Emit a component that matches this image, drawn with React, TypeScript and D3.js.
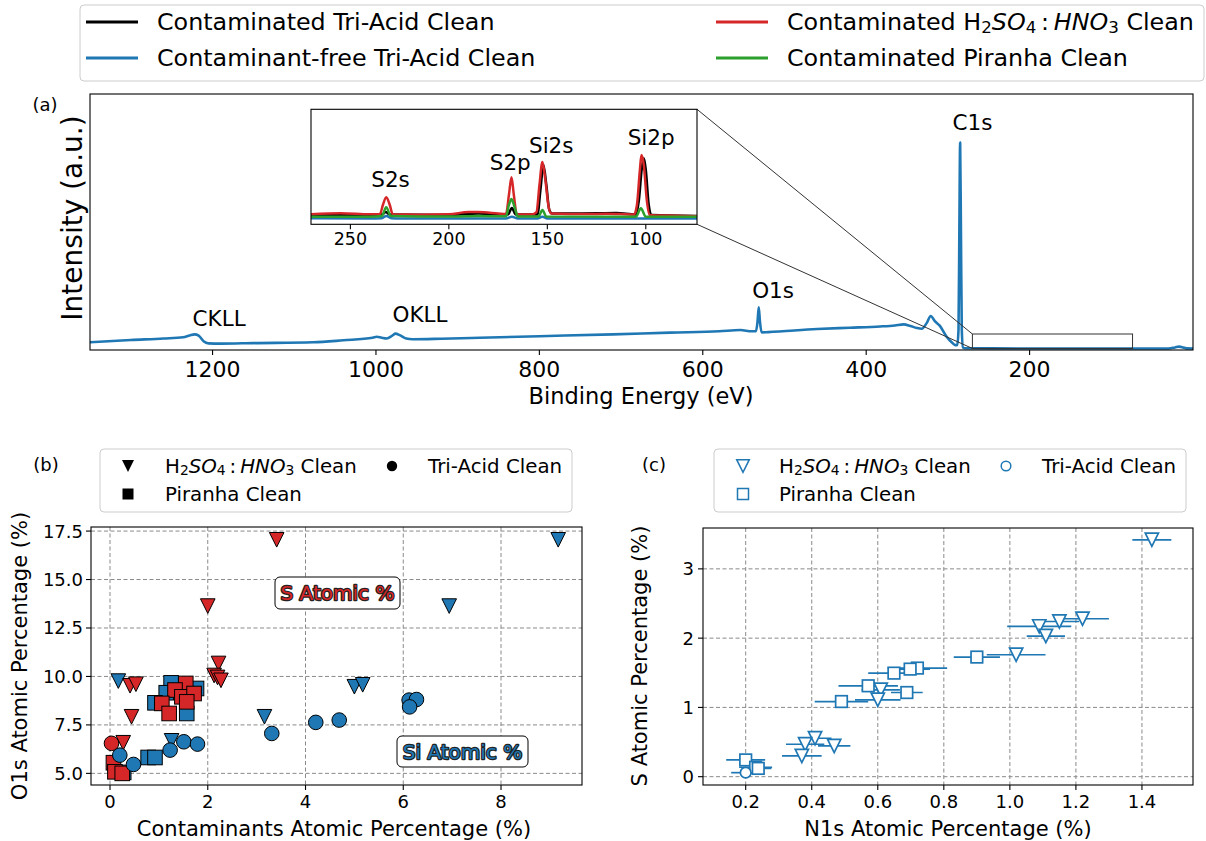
import React from "react";
import * as d3 from "d3";

const FONT = "'DejaVu Sans', sans-serif";
const C_BLUE = "#1f77b4";
const C_RED = "#d62728";
const C_GREEN = "#2ca02c";
const C_BLACK = "#000000";
const GRID = "#8a8a8a";

// (a) Survey spectrum, contaminant-free tri-acid clean: [binding energy (eV), intensity (a.u.)]
const surveyFreeTriAcid: [number, number][] = [
  [1350, 3.0], [1300, 3.9], [1260, 4.5], [1236, 5.0], [1228, 5.7], [1222, 6.1], [1217, 5.6],
  [1211, 3.4], [1205, 2.6], [1190, 2.5], [1150, 2.7], [1077, 3.0], [1040, 3.8], [1004, 4.8],
  [999, 5.2], [993, 4.8], [987, 4.5], [980, 5.6], [976, 6.4], [971, 5.8], [963, 4.5], [955, 4.2],
  [920, 4.4], [873, 4.8], [800, 5.4], [710, 6.1], [640, 6.8], [580, 7.3], [554, 7.8], [540, 7.3],
  [535, 7.3], [533, 11.0], [531.5, 16.7], [530, 11.0], [528, 6.9], [520, 7.0], [460, 8.2],
  [420, 8.7], [383, 9.2], [365, 9.6], [354, 10.0], [346, 9.4], [338, 8.6], [332, 8.3], [326, 10.5],
  [321, 13.3], [316, 11.3], [310, 9.5], [302, 5.4], [295, 2.9], [291, 1.9], [288.5, 2.0], [287, 8],
  [286, 45], [285, 81], [284, 45], [283, 8], [281.5, 1.0], [279, 0.7], [200, 0.6], [100, 0.6],
  [30, 0.6], [22, 1.0], [17, 1.3], [12, 1.0], [8, 0.65], [0, 0.6],
];

// (a) inset, 270–74 eV window: [binding energy (eV), intensity (a.u.)]
const insetTriAcid: [number, number][] = [
  [270, 1.06], [240, 1.06], [234, 1.08], [232, 1.2], [230, 1.08], [200, 1.06], [185, 1.13], [170, 1.08],
  [168, 1.4], [166, 1.08], [155, 1.08], [153.5, 2.29], [152, 3.51], [150.5, 2.53], [149, 1.3],
  [147.5, 1.13], [125, 1.14], [115, 1.15], [105, 1.08], [103.5, 1.79], [102, 3.37], [101, 3.84],
  [100, 3.27], [98.5, 1.55], [97, 1.06], [74, 1.01],
];
const insetFreeTriAcid: [number, number][] = [
  [270, 0.9], [240, 0.88], [234, 0.9], [231.8, 1.01], [229, 0.9], [225, 0.88], [171, 0.89], [168, 0.97],
  [165, 0.89], [160, 0.88], [155, 0.89], [152.5, 0.97], [150, 0.89], [145, 0.88], [74, 0.88],
];
const insetH2SO4: [number, number][] = [
  [270, 1.09], [255, 1.14], [240, 1.09], [235, 1.1], [233.5, 1.55], [231.8, 1.93], [230, 1.55],
  [228.5, 1.09], [215, 1.07], [200, 1.09], [190, 1.2], [185, 1.2], [175, 1.13], [171, 1.1],
  [169.5, 2.04], [168.2, 2.91], [167, 2.04], [165.5, 1.08], [158, 1.08], [155.5, 1.2], [154, 2.53],
  [152.5, 3.66], [151, 2.78], [149.5, 1.55], [148, 1.13], [130, 1.1], [120, 1.12], [106, 1.08],
  [104.5, 1.55], [103, 3.27], [102.2, 4.0], [101, 3.51], [99.5, 1.79], [98, 1.06], [90, 1.03], [74, 0.99],
];
const insetPiranha: [number, number][] = [
  [270, 0.97], [240, 0.97], [234, 1.01], [231.8, 1.44], [229.5, 1.01], [200, 0.98], [185, 1.01],
  [171, 0.99], [169.5, 1.55], [168.2, 1.84], [166.5, 1.4], [165, 0.98], [154.5, 0.98], [152.5, 1.3],
  [150.5, 0.98], [105, 0.97], [102.5, 1.39], [100, 0.97], [74, 0.97],
];

const surveyTicks = [1200, 1000, 800, 600, 400, 200];
const insetTicks = [250, 200, 150, 100];
const surveyPeaks = [
  { label: "CKLL", e: 1192, v: 12.5 },
  { label: "OKLL", e: 946, v: 13.7 },
  { label: "O1s", e: 514, v: 23.4 },
  { label: "C1s", e: 270, v: 89 },
];
const insetPeaks = [
  { label: "S2s", e: 229.6, v: 2.78 },
  { label: "S2p", e: 168.8, v: 3.63 },
  { label: "Si2s", e: 148, v: 4.45 },
  { label: "Si2p", e: 97.3, v: 4.87 },
];
const zoomWindow = { e0: 270, e1: 74, v0: 0.6, v1: 6.25 };

// (b) O1s vs contaminant atomic %: [contaminant %, O1s %]
const h2so4Si: [number, number][] = [
  [9.17, 17.05], [6.94, 13.63], [5.0, 9.47], [5.17, 9.57], [0.17, 9.76], [3.16, 7.92], [1.26, 6.68],
];
const h2so4S: [number, number][] = [
  [3.41, 17.05], [2.0, 13.63], [2.22, 10.67], [2.13, 10.05], [2.2, 9.95], [2.27, 9.8], [0.41, 9.52],
  [0.53, 9.6], [0.44, 7.92], [0.27, 6.58],
];
const piranhaSi: [number, number][] = [
  [0.78, 5.82], [0.92, 5.82], [1.25, 9.67], [1.15, 9.16], [1.57, 8.09], [1.77, 9.38], [0.92, 8.64], [0.28, 5.05],
];
const piranhaS: [number, number][] = [
  [1.55, 9.64], [1.33, 9.3], [1.47, 8.95], [1.72, 9.12], [1.06, 8.61], [1.21, 8.09], [1.57, 8.69],
  [0.07, 5.55], [0.1, 5.08], [0.25, 5.0],
];
const triAcidSi: [number, number][] = [
  [3.31, 7.06], [4.21, 7.63], [4.69, 7.75], [6.12, 8.78], [6.27, 8.81], [6.13, 8.43], [1.51, 6.63],
  [1.79, 6.51], [1.23, 6.2], [0.48, 5.46], [0.2, 5.94],
];
const triAcidS: [number, number][] = [[0.03, 6.55]];
const bTicksX = [0, 2, 4, 6, 8];
const bTicksY = [5, 7.5, 10, 12.5, 15, 17.5];

// (c) S vs N1s atomic %: [N1s %, S %, N1s error]
const cH2SO4: [number, number, number][] = [
  [1.43, 3.42, 0.059], [1.22, 2.28, 0.08], [1.15, 2.24, 0.06], [1.089, 2.17, 0.097], [1.109, 2.03, 0.058],
  [1.019, 1.76, 0.089], [0.609, 1.254, 0.058], [0.6, 1.11, 0.069], [0.41, 0.555, 0.05], [0.38, 0.468, 0.058],
  [0.468, 0.444, 0.049], [0.37, 0.3, 0.06],
];
const cPiranha: [number, number, number][] = [
  [0.9, 1.727, 0.07], [0.72, 1.568, 0.09], [0.698, 1.553, 0.06], [0.649, 1.495, 0.078], [0.571, 1.312, 0.09],
  [0.688, 1.215, 0.048], [0.49, 1.085, 0.081], [0.2, 0.242, 0.059], [0.23, 0.136, 0.05], [0.238, 0.12, 0.04],
];
const cTriAcid: [number, number, number][] = [[0.2, 0.058, 0.044]];
const cTicksX = [0.2, 0.4, 0.6, 0.8, 1.0, 1.2, 1.4];
const cTicksY = [0, 1, 2, 3];

// H2SO4:HNO3 written with subscripts and italic molecule names
function Acid({ size }: { size: number }) {
  const sub = size * 0.7;
  const d = size * 0.22;
  return (
    <>
      <tspan>H</tspan>
      <tspan fontSize={sub} dy={d}>2</tspan>
      <tspan fontStyle="italic" dy={-d}>SO</tspan>
      <tspan fontSize={sub} dy={d}>4</tspan>
      <tspan dy={-d}>{"\u2009:\u2009"}</tspan>
      <tspan fontStyle="italic">HNO</tspan>
      <tspan fontSize={sub} dy={d}>3</tspan>
      <tspan dy={-d}> Clean</tspan>
    </>
  );
}

const triPath = (cx: number, cy: number, r: number) =>
  `M${cx - r},${cy - r}L${cx + r},${cy - r}L${cx},${cy + r}Z`;

export default function App() {
  // ---------- (a) ----------
  const xA = d3.scaleLinear().domain([1350, 0]).range([90, 1193]);
  const yA = d3.scaleLinear().domain([0, 100]).range([350, 94]);
  const xI = d3.scaleLinear().domain([270, 74]).range([311, 697]);
  const yI = d3.scaleLinear().domain([zoomWindow.v0, zoomWindow.v1]).range([224.3, 109.3]);
  const lineA = d3.line<[number, number]>().x((d) => xA(d[0])).y((d) => yA(d[1])).curve(d3.curveMonotoneX);
  const lineI = d3.line<[number, number]>().x((d) => xI(d[0])).y((d) => yI(d[1])).curve(d3.curveMonotoneX);

  // ---------- (b) ----------
  const xB = d3.scaleLinear().domain([-0.389, 9.657]).range([91, 582]);
  const yB = d3.scaleLinear().domain([4.4, 17.71]).range([785, 527]);

  // ---------- (c) ----------
  const xC = d3.scaleLinear().domain([0.0707, 1.5546]).range([703, 1193]);
  const yC = d3.scaleLinear().domain([-0.12, 3.59]).range([785, 528]);

  const rx0 = xA(zoomWindow.e0), rx1 = xA(zoomWindow.e1);
  const ry0 = yA(zoomWindow.v1), ry1 = yA(zoomWindow.v0);
  const [ix0, ix1] = xI.range();
  const [iy1, iy0] = yI.range();

  const bR = 7.3;
  const cTri = 6.6, cSq = 5.8, cCirc = 5.3;
  const LEG = 19.8;
  const TOPLEG = 23.8;

  return (
    <svg
      width={1206}
      height={841}
      style={{ position: "absolute", left: 0, top: 0, background: "#fff" }}
      fontFamily={FONT}
    >
      <defs>
        <clipPath id="clipA"><rect x={90} y={94} width={1103} height={256} /></clipPath>
        <clipPath id="clipI"><rect x={ix0} y={iy0} width={ix1 - ix0} height={iy1 - iy0} /></clipPath>
        <clipPath id="clipB"><rect x={91} y={527} width={491} height={258} /></clipPath>
        <clipPath id="clipC"><rect x={703} y={528} width={490} height={257} /></clipPath>
      </defs>
      <rect x={0} y={0} width={1206} height={841} fill="#fff" />

      {/* ===== top legend ===== */}
      <rect x={80} y={5} width={1124} height={76} rx={4} fill="#fff" stroke="#cccccc" />
      {[
        { c: C_BLACK, x: 86, y: 22, t: "Contaminated Tri-Acid Clean" },
        { c: C_BLUE, x: 86, y: 58, t: "Contaminant-free Tri-Acid Clean" },
        { c: C_RED, x: 716, y: 22, t: null },
        { c: C_GREEN, x: 716, y: 58, t: "Contaminated Piranha Clean" },
      ].map((e, i) => (
        <g key={i}>
          <line x1={e.x} x2={e.x + 52} y1={e.y} y2={e.y} stroke={e.c} strokeWidth={3} />
          <text x={e.x + 71} y={e.y} fontSize={TOPLEG} dominantBaseline="central">
            {e.t === null ? (<><tspan>Contaminated </tspan><Acid size={TOPLEG} /></>) : e.t}
          </text>
        </g>
      ))}

      {/* ===== (a) survey ===== */}
      <text x={45} y={104} fontSize={18} textAnchor="middle" dominantBaseline="central">(a)</text>
      <g clipPath="url(#clipA)">
        <path d={lineA(surveyFreeTriAcid) || ""} fill="none" stroke={C_BLUE} strokeWidth={2.6} strokeLinejoin="round" />
      </g>
      <rect x={90} y={94} width={1103} height={256} fill="none" stroke="#000" strokeWidth={1.1} />
      {surveyTicks.map((t) => (
        <g key={t}>
          <line x1={xA(t)} x2={xA(t)} y1={350} y2={355} stroke="#000" strokeWidth={1.1} />
          <text x={xA(t)} y={369} fontSize={22} textAnchor="middle" dominantBaseline="central">{t}</text>
        </g>
      ))}
      <text x={641} y={396} fontSize={22.5} textAnchor="middle" dominantBaseline="central">Binding Energy (eV)</text>
      <text transform="translate(72,218) rotate(-90)" fontSize={28} textAnchor="middle" dominantBaseline="central">
        Intensity (a.u.)
      </text>
      {surveyPeaks.map((p) => (
        <text key={p.label} x={xA(p.e)} y={yA(p.v)} fontSize={21.5} textAnchor="middle" dominantBaseline="central">
          {p.label}
        </text>
      ))}

      {/* zoom window and connectors */}
      <rect x={rx0} y={ry0} width={rx1 - rx0} height={ry1 - ry0} fill="none" stroke="#333" strokeWidth={1} />
      <line x1={ix1} y1={iy0} x2={rx0} y2={ry0} stroke="#333" strokeWidth={1} />
      <line x1={ix1} y1={iy1} x2={rx0} y2={ry1} stroke="#333" strokeWidth={1} />

      {/* inset */}
      <rect x={ix0} y={iy0} width={ix1 - ix0} height={iy1 - iy0} fill="#fff" />
      <g clipPath="url(#clipI)">
        <path d={lineI(insetTriAcid) || ""} fill="none" stroke={C_BLACK} strokeWidth={2.5} strokeLinejoin="round" />
        <path d={lineI(insetFreeTriAcid) || ""} fill="none" stroke={C_BLUE} strokeWidth={2.5} strokeLinejoin="round" />
        <path d={lineI(insetH2SO4) || ""} fill="none" stroke={C_RED} strokeWidth={2.5} strokeLinejoin="round" />
        <path d={lineI(insetPiranha) || ""} fill="none" stroke={C_GREEN} strokeWidth={2.5} strokeLinejoin="round" />
      </g>
      <rect x={ix0} y={iy0} width={ix1 - ix0} height={iy1 - iy0} fill="none" stroke="#000" strokeWidth={1.1} />
      {insetTicks.map((t) => (
        <g key={t}>
          <line x1={xI(t)} x2={xI(t)} y1={iy1} y2={iy1 + 5} stroke="#000" strokeWidth={1.1} />
          <text x={xI(t)} y={iy1 + 15} fontSize={17.5} textAnchor="middle" dominantBaseline="central">{t}</text>
        </g>
      ))}
      {insetPeaks.map((p) => (
        <text key={p.label} x={xI(p.e)} y={yI(p.v)} fontSize={21.5} textAnchor="middle" dominantBaseline="central">
          {p.label}
        </text>
      ))}

      {/* ===== (b) ===== */}
      <text x={46} y={464} fontSize={18} textAnchor="middle" dominantBaseline="central">(b)</text>
      <rect x={100} y={449} width={472} height={63} rx={4} fill="#fff" stroke="#cccccc" />
      <path d={triPath(128, 466, 6)} fill="#000" />
      <text x={165} y={466} fontSize={LEG} dominantBaseline="central"><Acid size={LEG} /></text>
      <circle cx={392} cy={466} r={5.2} fill="#000" />
      <text x={428} y={466} fontSize={LEG} dominantBaseline="central">Tri-Acid Clean</text>
      <rect x={122.5} y={488.5} width={11} height={11} fill="#000" />
      <text x={165} y={494} fontSize={LEG} dominantBaseline="central">Piranha Clean</text>

      <g stroke={GRID} strokeWidth={1} strokeDasharray="4,2.5">
        {bTicksX.map((t) => <line key={"gx" + t} x1={xB(t)} x2={xB(t)} y1={527} y2={785} />)}
        {bTicksY.map((t) => <line key={"gy" + t} x1={91} x2={582} y1={yB(t)} y2={yB(t)} />)}
      </g>
      <g clipPath="url(#clipB)" stroke="#000" strokeWidth={1}>
        {h2so4Si.map((d, i) => <path key={"ts" + i} d={triPath(xB(d[0]), yB(d[1]), bR)} fill={C_BLUE} />)}
        {h2so4S.map((d, i) => <path key={"tr" + i} d={triPath(xB(d[0]), yB(d[1]), bR)} fill={C_RED} />)}
        {piranhaSi.map((d, i) => (
          <rect key={"ps" + i} x={xB(d[0]) - bR} y={yB(d[1]) - bR} width={2 * bR} height={2 * bR} fill={C_BLUE} />
        ))}
        {piranhaS.map((d, i) => (
          <rect key={"pr" + i} x={xB(d[0]) - bR} y={yB(d[1]) - bR} width={2 * bR} height={2 * bR} fill={C_RED} />
        ))}
        {triAcidSi.map((d, i) => <circle key={"cs" + i} cx={xB(d[0])} cy={yB(d[1])} r={bR} fill={C_BLUE} />)}
        {triAcidS.map((d, i) => <circle key={"cr" + i} cx={xB(d[0])} cy={yB(d[1])} r={bR} fill={C_RED} />)}
      </g>
      <rect x={91} y={527} width={491} height={258} fill="none" stroke="#000" strokeWidth={1.1} />
      {bTicksX.map((t) => (
        <g key={"bx" + t}>
          <line x1={xB(t)} x2={xB(t)} y1={785} y2={790} stroke="#000" strokeWidth={1.1} />
          <text x={xB(t)} y={801} fontSize={18} textAnchor="middle" dominantBaseline="central">{t}</text>
        </g>
      ))}
      {bTicksY.map((t) => (
        <g key={"by" + t}>
          <line x1={86} x2={91} y1={yB(t)} y2={yB(t)} stroke="#000" strokeWidth={1.1} />
          <text x={83} y={yB(t)} fontSize={18} textAnchor="end" dominantBaseline="central">{d3.format(".1f")(t)}</text>
        </g>
      ))}
      <text x={334} y={829} fontSize={21} textAnchor="middle" dominantBaseline="central">
        Contaminants Atomic Percentage (%)
      </text>
      <text transform="translate(20,656) rotate(-90)" fontSize={21} textAnchor="middle" dominantBaseline="central">
        O1s Atomic Percentage (%)
      </text>
      <rect x={275} y={577} width={125} height={32} rx={5} fill="#fff" stroke="#000" strokeWidth={1} />
      <text x={337.5} y={593} fontSize={20} textAnchor="middle" dominantBaseline="central" fill={C_RED}
        stroke="#222" strokeWidth={2.4} paintOrder="stroke" strokeLinejoin="round">S Atomic %</text>
      <rect x={397} y={736} width={131} height={31} rx={5} fill="#fff" stroke="#000" strokeWidth={1} />
      <text x={462.5} y={751.5} fontSize={20} textAnchor="middle" dominantBaseline="central" fill={C_BLUE}
        stroke="#222" strokeWidth={2.4} paintOrder="stroke" strokeLinejoin="round">Si Atomic %</text>

      {/* ===== (c) ===== */}
      <text x={654} y={464} fontSize={18} textAnchor="middle" dominantBaseline="central">(c)</text>
      <rect x={714} y={449} width={472} height={63} rx={4} fill="#fff" stroke="#cccccc" />
      <path d={triPath(743, 466, 6.3)} fill="none" stroke={C_BLUE} strokeWidth={1.5} />
      <text x={779} y={466} fontSize={LEG} dominantBaseline="central"><Acid size={LEG} /></text>
      <circle cx={1006} cy={466} r={4.8} fill="none" stroke={C_BLUE} strokeWidth={1.5} />
      <text x={1042} y={466} fontSize={LEG} dominantBaseline="central">Tri-Acid Clean</text>
      <rect x={737.5} y={488.5} width={11} height={11} fill="none" stroke={C_BLUE} strokeWidth={1.5} />
      <text x={779} y={494} fontSize={LEG} dominantBaseline="central">Piranha Clean</text>

      <g stroke={GRID} strokeWidth={1} strokeDasharray="4,2.5">
        {cTicksX.map((t) => <line key={"cgx" + t} x1={xC(t)} x2={xC(t)} y1={528} y2={785} />)}
        {cTicksY.map((t) => <line key={"cgy" + t} x1={703} x2={1193} y1={yC(t)} y2={yC(t)} />)}
      </g>
      <g clipPath="url(#clipC)" stroke={C_BLUE} strokeWidth={1.7}>
        {[...cH2SO4, ...cPiranha, ...cTriAcid].map((d, i) => (
          <line key={"e" + i} x1={xC(d[0] - d[2])} x2={xC(d[0] + d[2])} y1={yC(d[1])} y2={yC(d[1])} />
        ))}
        {cH2SO4.map((d, i) => <path key={"ct" + i} d={triPath(xC(d[0]), yC(d[1]), cTri)} fill="#fff" />)}
        {cPiranha.map((d, i) => (
          <rect key={"cp" + i} x={xC(d[0]) - cSq} y={yC(d[1]) - cSq} width={2 * cSq} height={2 * cSq} fill="#fff" />
        ))}
        {cTriAcid.map((d, i) => <circle key={"cc" + i} cx={xC(d[0])} cy={yC(d[1])} r={cCirc} fill="#fff" />)}
      </g>
      <rect x={703} y={528} width={490} height={257} fill="none" stroke="#000" strokeWidth={1.1} />
      {cTicksX.map((t) => (
        <g key={"cx" + t}>
          <line x1={xC(t)} x2={xC(t)} y1={785} y2={790} stroke="#000" strokeWidth={1.1} />
          <text x={xC(t)} y={801} fontSize={18} textAnchor="middle" dominantBaseline="central">{d3.format(".1f")(t)}</text>
        </g>
      ))}
      {cTicksY.map((t) => (
        <g key={"cy" + t}>
          <line x1={698} x2={703} y1={yC(t)} y2={yC(t)} stroke="#000" strokeWidth={1.1} />
          <text x={694} y={yC(t)} fontSize={18} textAnchor="end" dominantBaseline="central">{t}</text>
        </g>
      ))}
      <text x={948} y={829} fontSize={21} textAnchor="middle" dominantBaseline="central">
        N1s Atomic Percentage (%)
      </text>
      <text transform="translate(640,656) rotate(-90)" fontSize={21} textAnchor="middle" dominantBaseline="central">
        S Atomic Percentage (%)
      </text>
    </svg>
  );
}
